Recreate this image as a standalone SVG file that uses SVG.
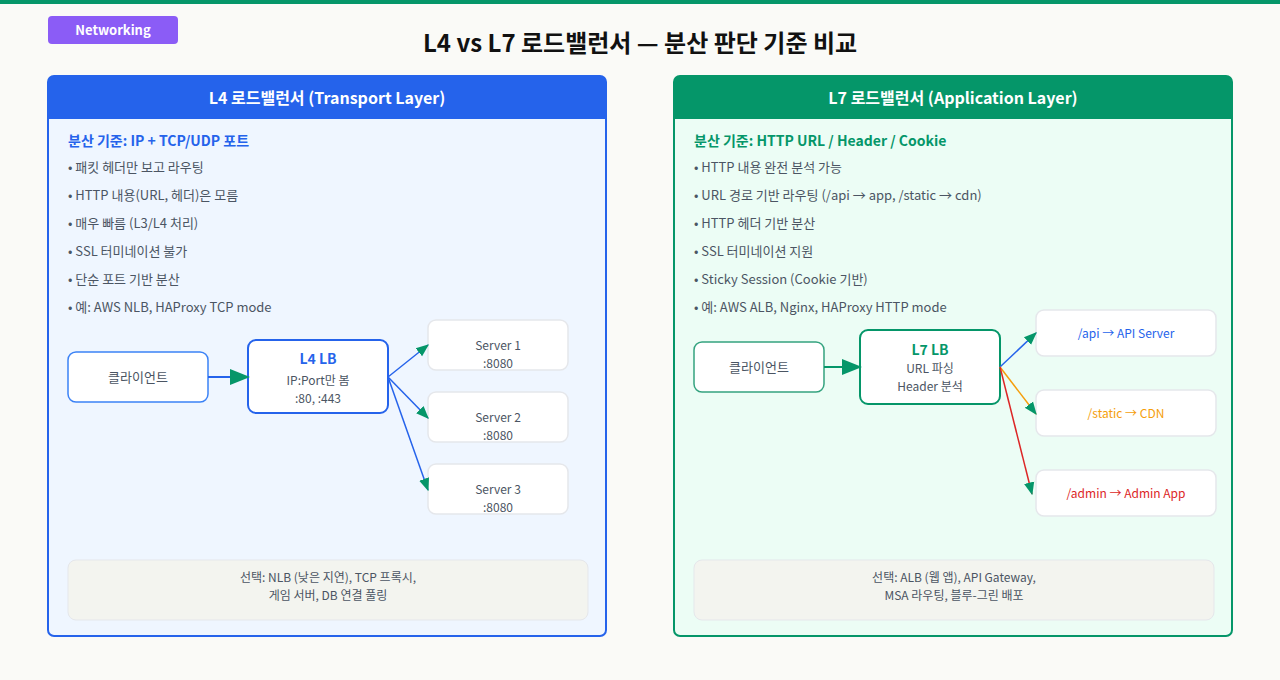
<svg xmlns="http://www.w3.org/2000/svg" width="1280" height="680" viewBox="0 0 1280 680">
<style>
text{font-family:"Noto Sans CJK KR","Noto Sans",sans-serif;}
.b{font-size:13px;fill:#4b5563}
.s{font-size:12px;fill:#4b5563;text-anchor:middle}
.m{text-anchor:middle}
.node{fill:#fff;stroke:#e5e7eb;stroke-width:1.5}
</style>
<defs>
<marker id="ah" viewBox="0 0 10 10" refX="9" refY="5" markerWidth="13" markerHeight="13" orient="auto" markerUnits="userSpaceOnUse">
<path d="M0,1 L10,5 L0,9 z" fill="#059669"/></marker>
<marker id="ah2" viewBox="0 0 10 10" refX="9" refY="5" markerWidth="20" markerHeight="20" orient="auto" markerUnits="userSpaceOnUse">
<path d="M0,1 L10,5 L0,9 z" fill="#059669"/></marker>
</defs>
<rect width="1280" height="680" fill="#fafaf7"/>
<rect width="1280" height="4" fill="#059669"/>
<g id="tag"><rect x="48" y="16" width="130" height="28" rx="4" fill="#8b5cf6"/><text x="113" y="35" class="m" font-size="13" font-weight="bold" fill="#fff">Networking</text></g>
<text x="640" y="52" class="m" font-size="24" font-weight="bold" fill="#111">L4 vs L7 로드밸런서 — 분산 판단 기준 비교</text>

<g id="left-panel">
<rect x="48" y="76" width="558" height="560" rx="6" fill="#eff6ff" stroke="#2563eb" stroke-width="2"/>
<path d="M48,119 V82 a6,6 0 0 1 6,-6 H600 a6,6 0 0 1 6,6 V119 z" fill="#2563eb"/>
<text x="327" y="104" class="m" font-size="16" font-weight="bold" fill="#fff">L4 로드밸런서 (Transport Layer)</text>
<text x="68" y="146" font-size="14" font-weight="bold" fill="#2563eb">분산 기준: IP + TCP/UDP 포트</text>
<text x="68" y="172" class="b">• 패킷 헤더만 보고 라우팅</text>
<text x="68" y="200" class="b">• HTTP 내용(URL, 헤더)은 모름</text>
<text x="68" y="228" class="b">• 매우 빠름 (L3/L4 처리)</text>
<text x="68" y="256" class="b">• SSL 터미네이션 불가</text>
<text x="68" y="284" class="b">• 단순 포트 기반 분산</text>
<text x="68" y="312" class="b">• 예: AWS NLB, HAProxy TCP mode</text>
<rect x="68" y="560" width="520" height="60" rx="8" fill="#f3f4ef" stroke="#e5e7eb"/>
<text x="328" y="582" class="s">선택: NLB (낮은 지연), TCP 프록시,</text>
<text x="328" y="600" class="s">게임 서버, DB 연결 풀링</text>
</g>
<g id="l4-client"><rect x="68" y="352" width="140" height="50" rx="8" fill="#fff" stroke="#3b82f6" stroke-width="1.5"/><text x="138" y="382" class="m" font-size="13" fill="#4b5563">클라이언트</text></g>
<g id="l4-lb"><rect x="248" y="340" width="140" height="73" rx="8" fill="#fff" stroke="#2563eb" stroke-width="2"/><text x="318" y="364" class="m" font-size="14" font-weight="bold" fill="#2563eb">L4 LB</text><text x="318" y="385" class="s">IP:Port만 봄</text><text x="318" y="403" class="s">:80, :443</text></g>
<g id="s1"><rect x="428" y="320" width="140" height="50" rx="8" class="node"/><text x="498" y="350" class="s">Server 1</text><text x="498" y="368" class="s">:8080</text></g>
<g id="s2"><rect x="428" y="392" width="140" height="50" rx="8" class="node"/><text x="498" y="422" class="s">Server 2</text><text x="498" y="440" class="s">:8080</text></g>
<g id="s3"><rect x="428" y="464" width="140" height="50" rx="8" class="node"/><text x="498" y="494" class="s">Server 3</text><text x="498" y="512" class="s">:8080</text></g>

<g id="right-panel">
<rect x="674" y="76" width="558" height="560" rx="6" fill="#ecfdf5" stroke="#059669" stroke-width="2"/>
<path d="M674,119 V82 a6,6 0 0 1 6,-6 H1226 a6,6 0 0 1 6,6 V119 z" fill="#059669"/>
<text x="953" y="104" class="m" font-size="16" font-weight="bold" fill="#fff">L7 로드밸런서 (Application Layer)</text>
<text x="694" y="146" font-size="14" font-weight="bold" fill="#059669">분산 기준: HTTP URL / Header / Cookie</text>
<text x="694" y="172" class="b">• HTTP 내용 완전 분석 가능</text>
<text x="694" y="200" class="b">• URL 경로 기반 라우팅 (/api → app, /static → cdn)</text>
<text x="694" y="228" class="b">• HTTP 헤더 기반 분산</text>
<text x="694" y="256" class="b">• SSL 터미네이션 지원</text>
<text x="694" y="284" class="b">• Sticky Session (Cookie 기반)</text>
<text x="694" y="312" class="b">• 예: AWS ALB, Nginx, HAProxy HTTP mode</text>
<rect x="694" y="560" width="520" height="60" rx="8" fill="#f3f4ef" stroke="#e5e7eb"/>
<text x="954" y="582" class="s">선택: ALB (웹 앱), API Gateway,</text>
<text x="954" y="600" class="s">MSA 라우팅, 블루-그린 배포</text>
</g>
<g id="l7-client"><rect x="694" y="342" width="130" height="50" rx="8" fill="#fff" stroke="#34a37f" stroke-width="1.5"/><text x="759" y="372" class="m" font-size="13" fill="#4b5563">클라이언트</text></g>
<g id="l7-lb"><rect x="860" y="330" width="140" height="74" rx="8" fill="#fff" stroke="#059669" stroke-width="2"/><text x="930" y="355" class="m" font-size="14" font-weight="bold" fill="#059669">L7 LB</text><text x="930" y="373" class="s">URL 파싱</text><text x="930" y="391" class="s">Header 분석</text></g>
<g id="d1"><rect x="1036" y="310" width="180" height="46" rx="8" class="node"/><text x="1126" y="338" class="s" style="fill:#2563eb">/api → API Server</text></g>
<g id="d2"><rect x="1036" y="390" width="180" height="46" rx="8" class="node"/><text x="1126" y="418" class="s" style="fill:#f59e0b">/static → CDN</text></g>
<g id="d3"><rect x="1036" y="470" width="180" height="46" rx="8" class="node"/><text x="1126" y="498" class="s" style="fill:#dc2626">/admin → Admin App</text></g>

<g id="connectors" fill="none" stroke-width="1.5">
<line x1="208" y1="377" x2="248" y2="377" stroke="#2563eb" stroke-width="2" marker-end="url(#ah2)"/>
<line x1="388" y1="377" x2="428" y2="345" stroke="#2563eb" marker-end="url(#ah)"/>
<line x1="388" y1="377" x2="428" y2="418" stroke="#2563eb" marker-end="url(#ah)"/>
<line x1="388" y1="377" x2="428" y2="490" stroke="#2563eb" marker-end="url(#ah)"/>
<line x1="824" y1="367" x2="860" y2="367" stroke="#059669" stroke-width="2" marker-end="url(#ah2)"/>
<line x1="1000" y1="367" x2="1036" y2="333" stroke="#2563eb" marker-end="url(#ah)"/>
<line x1="1000" y1="367" x2="1036" y2="414" stroke="#f59e0b" marker-end="url(#ah)"/>
<line x1="1000" y1="367" x2="1032" y2="494" stroke="#dc2626" marker-end="url(#ah)"/>
</g>
</svg>
